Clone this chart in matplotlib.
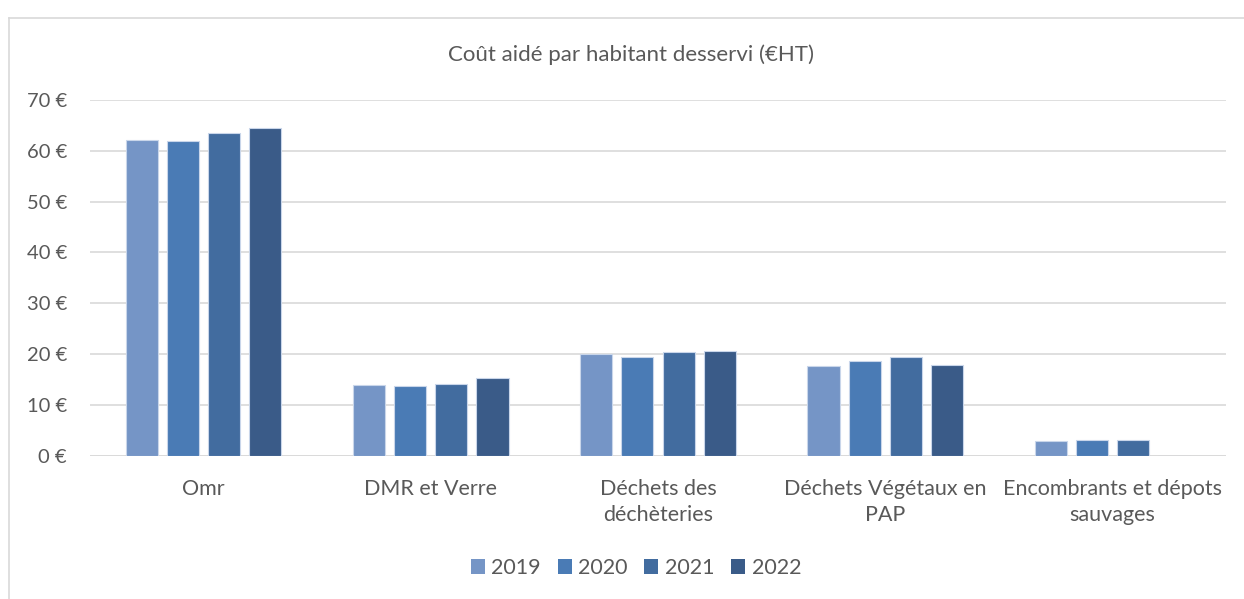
import matplotlib.pyplot as plt
from matplotlib.lines import Line2D
import numpy as np

categories = ["Omr", "DMR et Verre", "Déchets des\ndéchèteries",
              "Déchets Végétaux en\nPAP", "Encombrants et dépots\nsauvages"]
years = ["2019", "2020", "2021", "2022"]
values = {
    "2019": [62.1, 14.0, 20.0, 17.6, 2.8],
    "2020": [61.9, 13.7, 19.4, 18.7, 3.0],
    "2021": [63.6, 14.2, 20.4, 19.5, 3.1],
    "2022": [64.4, 15.2, 20.6, 17.8, 0.0],
}
colors = ["#7595c6", "#4a7bb5", "#426c9f", "#3a5b88"]
yticks = [0, 10, 20, 30, 40, 50, 60, 70]

W, H = 1244, 599
plt.rcParams["font.family"] = ["Lato", "DejaVu Sans"]
txt = "#595959"

fig = plt.figure(figsize=(W / 100, H / 100), dpi=100)
# chart frame (only left and top edges visible in the crop)
fig.lines.append(Line2D([8.5 / W, 8.5 / W], [0, 1 - 17.5 / H],
                        transform=fig.transFigure, color="#d9d9d9", lw=1.2))
fig.lines.append(Line2D([8.5 / W, 1], [1 - 17.5 / H, 1 - 17.5 / H],
                        transform=fig.transFigure, color="#d9d9d9", lw=1.2))

ax = fig.add_axes([90 / W, (H - 455.7) / H, (1226 - 90) / W, (455.7 - 100) / H])
x = np.arange(len(categories))
pitch = 0.181
width = 0.141
for i, y in enumerate(years):
    ax.bar(x + (i - 1.5) * pitch, values[y], width, color=colors[i],
           edgecolor="#c9d6ea", linewidth=0.8, label=y, zorder=3)

ax.set_xlim(-0.5, len(categories) - 0.5)
ax.set_ylim(0, 70)
ax.set_yticks(yticks)
ax.set_yticklabels([f"{v} €" for v in yticks])
ax.yaxis.grid(True, color="#d9d9d9", linewidth=1.2, zorder=0)
for s in ["top", "right", "left", "bottom"]:
    ax.spines[s].set_visible(False)
ax.tick_params(axis="y", length=0, pad=16.5, labelsize=14.5, labelcolor=txt)
ax.set_xticks(x)
ax.set_xticklabels(categories, linespacing=1.35)
ax.tick_params(axis="x", length=0, pad=17, labelsize=15.5, labelcolor=txt)
ax.axhline(0, color="#d9d9d9", linewidth=1.2, zorder=2)

fig.text(631 / W, 1 - 55 / H, "Coût aidé par habitant desservi (€HT)",
         ha="center", va="center", fontsize=16, color=txt)

leg = fig.legend(loc="center", bbox_to_anchor=(636 / W, 1 - 568 / H), ncol=4,
                 frameon=False, fontsize=15.5, handlelength=0.65, handleheight=0.65,
                 handletextpad=0.3, columnspacing=0.78)
for t in leg.get_texts():
    t.set_color(txt)
for h in leg.legend_handles:
    h.set_edgecolor("none")

fig.savefig("out.png", dpi=100)
